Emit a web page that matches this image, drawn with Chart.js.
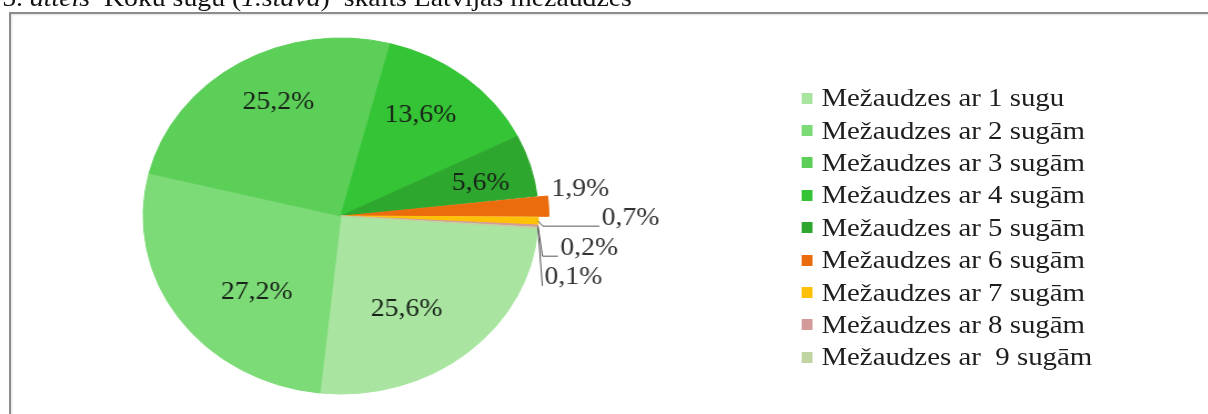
<!DOCTYPE html>
<html>
<head>
<meta charset="utf-8">
<script src="https://cdn.jsdelivr.net/npm/chart.js@4.4.1/dist/chart.umd.min.js"></script>
<style>
  html, body { margin: 0; padding: 0; background: #fff; overflow: hidden; }
  body { width: 1208px; height: 414px; position: relative; }
  #frame { position: absolute; left: 9px; top: 12px; width: 1400px; height: 600px;
           border-top: 2px solid #8c8c8c; border-left: 2px solid #8c8c8c;
           box-shadow: inset 1px 1px 2px rgba(0,0,0,0.12); }
  /* the source picture is stretched horizontally, so the whole stage is too */
  #stage { position: absolute; left: 0; top: 0; width: 1088px; height: 414px;
           transform: scaleX(1.11); transform-origin: 0 0; }
  #caption { position: absolute; left: 2px; top: -15px; font: 25px/25px 'Liberation Serif', serif;
             color: #111; white-space: pre; }
  #chart { position: absolute; left: 0; top: 0; }
  #legend { position: absolute; left: 722px; top: 82px; font: 26px 'Liberation Serif', serif; color: #1e1e1e; }
  .row { display: flex; align-items: center; height: 32.4px; white-space: pre; }
  .box { width: 10px; height: 11px; margin-right: 8px; flex: none; }
</style>
</head>
<body>
<div id="frame"></div>
<div id="stage">
  <div id="caption">5. <i>attēls</i>  Koku sugu (<i>1.stāva</i>)  skaits Latvijas mežaudzēs</div>
  <canvas id="chart" width="1088" height="414"></canvas>
  <div id="legend"></div>
</div>
<script>
const categories = [
    'Mežaudzes ar 1 sugu',
    'Mežaudzes ar 2 sugām',
    'Mežaudzes ar 3 sugām',
    'Mežaudzes ar 4 sugām',
    'Mežaudzes ar 5 sugām',
    'Mežaudzes ar 6 sugām',
    'Mežaudzes ar 7 sugām',
    'Mežaudzes ar 8 sugām',
    'Mežaudzes ar  9 sugām'
];
const shares = [25.6, 27.2, 25.2, 13.6, 5.6, 1.9, 0.7, 0.2, 0.1];
const colors = ['#a9e5a1', '#7cdb76', '#5ccf59', '#35c435', '#2ea72e', '#ea6c0c', '#ffc107', '#d49a9a', '#bfd4a0'];
const sliceOffsets = [0, 0, 0, 0, 0, 20, 0, 0, 0];

// label placement tweaks (px)
const insideNudge = [[-15, 5], [19, 10], [3, -14], [-1, -11], [15, 0]];
const outsideLabels = {
    5: { dx: 12, dy: -17, leader: false },
    6: { dx: 57, dy: -3, leader: true },
    7: { dx: 20, dy: 22, leader: true },
    8: { dx: 6, dy: 50, leader: true }
};

const fmt = v => v.toFixed(1).replace('.', ',') + '%';

const valueLabels = {
    id: 'valueLabels',
    afterDatasetsDraw(chart) {
        const ctx = chart.ctx;
        const arcs = chart.getDatasetMeta(0).data;
        ctx.save();
        ctx.font = "25px 'Liberation Serif', serif";
        ctx.textBaseline = 'middle';
        arcs.forEach((arc, i) => {
            const p = arc.getProps(['x', 'y', 'startAngle', 'endAngle', 'outerRadius'], true);
            const mid = (p.startAngle + p.endAngle) / 2;
            const text = fmt(shares[i]);
            if (outsideLabels[i]) {
                const o = outsideLabels[i];
                const ax = p.x + Math.cos(mid) * p.outerRadius;
                const ay = p.y + Math.sin(mid) * p.outerRadius;
                const lx = ax + o.dx, ly = ay + o.dy;
                if (o.leader) {
                    const ty = ly + 8;
                    ctx.strokeStyle = '#555';
                    ctx.lineWidth = 1;
                    ctx.beginPath();
                    ctx.moveTo(ax, ay);
                    ctx.lineTo(ax + 4, ty);
                    ctx.lineTo(lx - 2, ty);
                    ctx.stroke();
                }
                ctx.fillStyle = '#333';
                ctx.textAlign = 'left';
                ctx.fillText(text, lx, ly);
            } else {
                const r = p.outerRadius * 0.65;
                const n = insideNudge[i] || [0, 0];
                ctx.fillStyle = '#182218';
                ctx.textAlign = 'center';
                ctx.fillText(text, p.x + Math.cos(mid) * r + n[0], p.y + Math.sin(mid) * r + n[1]);
            }
        });
        ctx.restore();
    }
};

new Chart(document.getElementById('chart'), {
    type: 'pie',
    data: {
        labels: categories,
        datasets: [{
            data: shares,
            backgroundColor: colors,
            borderColor: colors,
            borderWidth: 1,
            offset: sliceOffsets
        }]
    },
    options: {
        responsive: false,
        animation: false,
        rotation: 94,
        radius: 178,
        layout: { padding: { left: 0, top: 18, right: 474, bottom: 0 } },
        plugins: {
            legend: { display: false },
            title: { display: false },
            tooltip: { enabled: false }
        }
    },
    plugins: [valueLabels]
});

// legend
const legend = document.getElementById('legend');
categories.forEach((name, i) => {
    const row = document.createElement('div');
    row.className = 'row';
    const box = document.createElement('span');
    box.className = 'box';
    box.style.background = colors[i];
    const txt = document.createElement('span');
    txt.textContent = name;
    row.appendChild(box);
    row.appendChild(txt);
    legend.appendChild(row);
});
</script>
</body>
</html>
